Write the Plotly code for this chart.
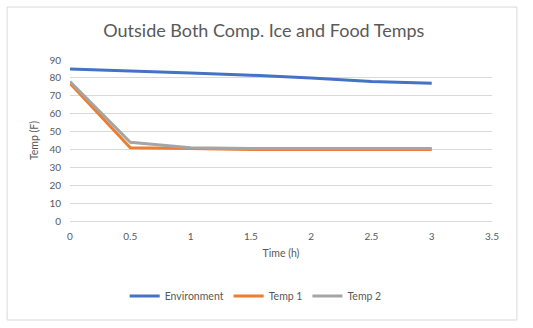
import plotly.graph_objects as go

time_h = [0, 0.5, 1, 1.5, 2, 2.5, 3]
environment = [85, 84, 82.8, 81.5, 80, 78, 77]
temp1 = [77, 41, 40.5, 40, 40, 40, 40]
temp2 = [78, 44, 41, 40.5, 40.5, 40.5, 40.5]

FONT = "Lato, 'Open Sans', sans-serif"
fig = go.Figure()
for name, ys, col in [("Environment", environment, "#4472C4"),
                      ("Temp 1", temp1, "#ED7D31"),
                      ("Temp 2", temp2, "#A5A5A5")]:
    fig.add_trace(go.Scatter(x=time_h, y=ys, mode="lines", name=name,
                             line=dict(color=col, width=3)))

fig.update_layout(
    width=533, height=328,
    margin=dict(l=70, r=41, t=60, b=107),
    paper_bgcolor="white", plot_bgcolor="white",
    font=dict(family=FONT, color="#595959", size=10),
    title=dict(text="Outside Both Comp. Ice and Food Temps", x=0.495, xanchor="center",
               y=1 - 31/328, yanchor="middle", font=dict(size=18, color="#595959")),
    xaxis=dict(range=[0, 3.5], tick0=0, dtick=0.5, showgrid=False, zeroline=False,
               showline=False, ticks="", ticklabelstandoff=8,
               title=dict(text="Time (h)", font=dict(size=10.5), standoff=8)),
    yaxis=dict(range=[0, 90], dtick=10, showgrid=True, gridcolor="#D9D9D9", gridwidth=1,
               zeroline=True, zerolinecolor="#D9D9D9", zerolinewidth=1, ticks="",
               ticklabelstandoff=8,
               title=dict(text="Temp (F)", font=dict(size=10.5), standoff=8)),
    legend=dict(orientation="h", x=0.44, xanchor="center", y=-0.466, yanchor="middle",
                font=dict(size=10.5), itemwidth=30, tracegroupgap=0),
    shapes=[dict(type="rect", xref="paper", yref="paper", x0=-0.149, x1=1.059,
                 y0=-0.615, y1=1.329, line=dict(color="#D9D9D9", width=1), layer="below")],
)
fig.write_html("out.html")
